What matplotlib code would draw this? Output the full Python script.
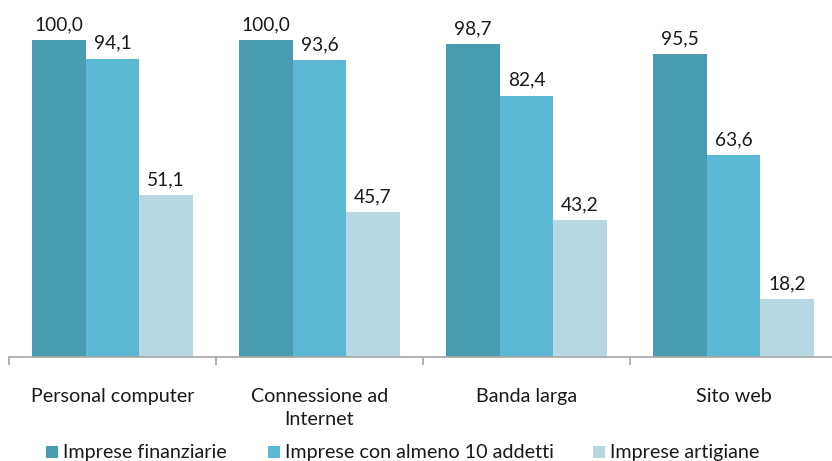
import matplotlib
matplotlib.use("Agg")
import matplotlib.pyplot as plt
import numpy as np
from matplotlib.patches import Rectangle

categories = ["Personal computer", "Connessione ad\nInternet", "Banda larga", "Sito web"]
series_names = ["Imprese finanziarie", "Imprese con almeno 10 addetti", "Imprese artigiane"]
finanziarie = [100.0, 100.0, 98.7, 95.5]
almeno10 = [94.1, 93.6, 82.4, 63.6]
artigiane = [51.1, 45.7, 43.2, 18.2]
colors = ["#4A9DB0", "#5BB9D3", "#B7D8E3"]

plt.rcParams['font.family'] = ['Lato', 'DejaVu Sans']

W, H = 832, 461
fig = plt.figure(figsize=(W/100, H/100), dpi=100)
ax = fig.add_axes([9/W, (H-357)/H, 828/W, 357/H])

x = np.arange(len(categories))
bw = 0.258
for i, (vals, c) in enumerate(zip([finanziarie, almeno10, artigiane], colors)):
    pos = x + (i-1)*bw
    ax.bar(pos, vals, width=bw, color=c, edgecolor='none', label=series_names[i])
    for p, v in zip(pos, vals):
        ax.annotate(f"{v:.1f}".replace('.', ','), (p, v), xytext=(0, 5), textcoords='offset points',
                    ha='center', va='bottom', fontsize=13.8, color='#1a1a1a')

ax.set_xlim(-0.5, len(categories)-0.5)
ax.set_ylim(0, 112.6)
for s in ['top', 'right', 'left']:
    ax.spines[s].set_visible(False)
ax.spines['bottom'].set_color('#a6a6a6')
ax.spines['bottom'].set_linewidth(1.2)
ax.set_yticks([])
ax.set_xticks(x)
ax.set_xticklabels(categories, fontsize=14.2, color='#1a1a1a', linespacing=1.45)
ax.tick_params(axis='x', which='major', length=0, pad=22)
ax.set_xticks(np.arange(-0.5, len(categories)), minor=True)
ax.tick_params(axis='x', which='minor', length=6, color='#a6a6a6', width=1.2)

leg_x = [46, 268, 593]
for lx, name, c in zip(leg_x, series_names, colors):
    fig.patches.append(Rectangle((lx/W, (H-458)/H), 12/W, 12/H, transform=fig.transFigure,
                                 facecolor=c, edgecolor='none'))
    fig.text((lx+17)/W, (H-452)/H, name, fontsize=14.2, color='#1a1a1a', va='center', ha='left')

fig.savefig("out.png", dpi=100)
